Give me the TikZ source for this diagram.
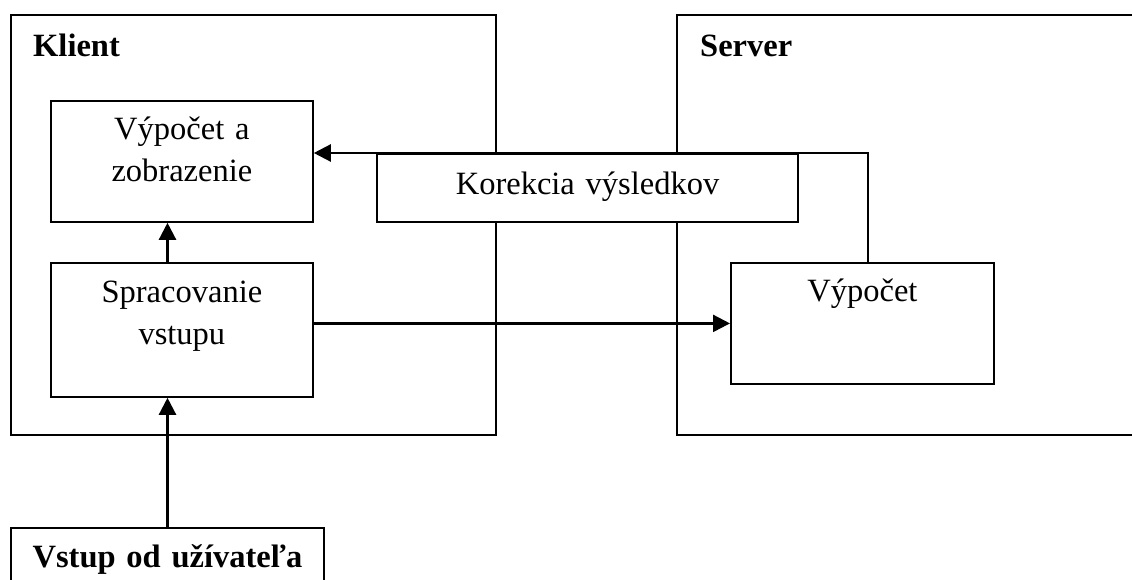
\documentclass[tikz,border=0pt]{standalone}
\usepackage{fontspec}
\setmainfont{Liberation Serif}
\usetikzlibrary{arrows.meta,calc}

\begin{document}
\begin{tikzpicture}[x=1pt,y=-1pt,
  frame/.style={draw, line width=1.8pt, inner sep=0pt, anchor=north west},
  box/.style={draw, line width=1.8pt, fill=white, inner sep=0pt, anchor=north west,
    align=center, font=\fontsize{32.5}{42}\selectfont},
  heading/.style={anchor=base west, inner sep=0pt, font=\fontsize{32.5}{42}\selectfont\bfseries},
  flow/.style={line width=2.4pt, line join=miter, -{Triangle[length=17pt,width=17pt]}}]

\useasboundingbox (0,0) rectangle (1132,580);
\fill[white] (0,0) rectangle (1132,580);
\clip (0,0) rectangle (1132,580);

% client and server frames
\node[frame, minimum width=485pt, minimum height=420pt] (klient) at (10,14) {};
\node[frame, minimum width=480pt, minimum height=420pt] (server) at (676,14) {};
\node[heading] (klientlbl) at (33,57) {Klient};
\node[heading] (serverlbl) at (700,57) {Server};

% processing boxes
\node[box, text width=262pt, text height=39pt, text depth=82pt] (vyzob) at (50,100)
  {Výpočet a\\zobrazenie};
\node[box, text width=262pt, text height=40pt, text depth=94pt] (spr) at (50,262)
  {Spracovanie\\vstupu};
\node[box, text width=263pt, text height=39pt, text depth=82pt] (vyp) at (730,262)
  {Výpočet};
\node[box, line width=2pt, text width=313pt, text height=39pt, text depth=60pt,
  font=\fontsize{32.5}{42}\selectfont\bfseries] (vstup) at (10,527)
  {Vstup od užívateľa};

% connectors
\draw[flow] (vstup.north) -- (vstup.north |- spr.south);
\draw[flow] (vstup.north |- spr.north) -- (vstup.north |- vyzob.south);
\draw[flow] (spr.east |- vyp.west) -- (vyp.west);

% correction box sits over both frames
\node[box, line width=2.1pt, text width=421pt, text height=40pt, text depth=28pt] (kor)
  at (376,153) {Korekcia výsledkov};

\draw[flow] ([xshift=5.5pt]vyp.north) -- ([xshift=5.5pt]vyp.north |- kor.north)
  -- (vyzob.east |- kor.north);
\end{tikzpicture}
\end{document}
